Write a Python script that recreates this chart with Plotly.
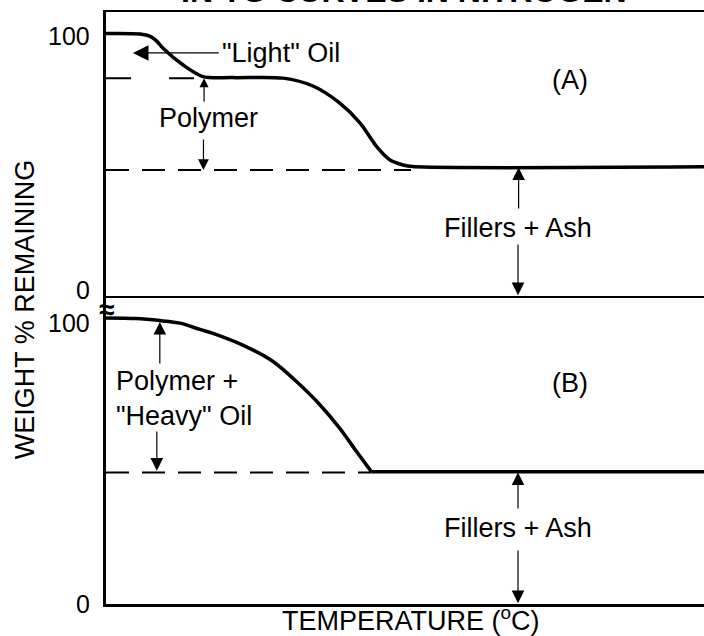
import plotly.graph_objects as go

# ---- data (temperature in arbitrary units 0-100, weight in %) ----
temp_a = [0, 5.7, 7.4, 8.4, 9.5, 12.9, 16.2, 21.2, 29.6, 34.6, 39.1, 42.5, 45.3, 47.5, 49.7, 51.3, 100]
weight_a = [100, 99.8, 98.9, 97.3, 94.5, 88.0, 83.6, 83.2, 83.0, 80.0, 73.5, 65.9, 56.8, 51.8, 49.9, 49.3, 49.2]

temp_b = [0, 5.0, 9.0, 12.4, 15.7, 17.9, 23.5, 28.0, 31.9, 35.8, 39.1, 41.9, 44.4, 100]
weight_b = [100, 99.8, 99.1, 98.2, 96.0, 94.6, 89.9, 84.7, 77.7, 69.6, 61.4, 53.3, 46.2, 46.2]

a_light_level = 83.0     # polymer plateau in (A)
a_ash_level = 48.0       # fillers + ash in (A)
b_ash_level = 46.0       # fillers + ash in (B)

ytick_vals = [0, 100]
ytick_text = ["0", "100"]

FONT = "Liberation Sans, Arial, sans-serif"
BLACK = "#000000"
TXT = 27

fig = go.Figure()

# curves
fig.add_trace(go.Scatter(x=temp_a, y=weight_a, mode="lines", xaxis="x2", yaxis="y2",
                         line=dict(color=BLACK, width=3.5, shape="spline", smoothing=0.8),
                         showlegend=False, hoverinfo="skip"))
fig.add_trace(go.Scatter(x=temp_b[:-1], y=weight_b[:-1], mode="lines", xaxis="x", yaxis="y",
                         line=dict(color=BLACK, width=3.5, shape="spline", smoothing=0.8),
                         showlegend=False, hoverinfo="skip"))
fig.add_trace(go.Scatter(x=temp_b[-2:], y=weight_b[-2:], mode="lines", xaxis="x", yaxis="y",
                         line=dict(color=BLACK, width=3.5),
                         showlegend=False, hoverinfo="skip"))

# dashed reference lines
fig.add_trace(go.Scatter(x=[0, 17.0], y=[a_light_level, a_light_level], mode="lines",
                         xaxis="x2", yaxis="y2",
                         line=dict(color=BLACK, width=2, dash="25px,38px"),
                         showlegend=False, hoverinfo="skip"))
fig.add_trace(go.Scatter(x=[0, 51.0], y=[a_ash_level, a_ash_level], mode="lines",
                         xaxis="x2", yaxis="y2",
                         line=dict(color=BLACK, width=2, dash="23px,13px"),
                         showlegend=False, hoverinfo="skip"))
fig.add_trace(go.Scatter(x=[0, 44.4], y=[b_ash_level, b_ash_level], mode="lines",
                         xaxis="x", yaxis="y",
                         line=dict(color=BLACK, width=2, dash="23px,13px"),
                         showlegend=False, hoverinfo="skip"))

annotations = []

def arrow(x_tail, y_tail, x_head, y_head, panel, size=2.1):
    xr, yr = ("x2", "y2") if panel == "A" else ("x", "y")
    annotations.append(dict(x=x_head, y=y_head, ax=x_tail, ay=y_tail,
                            xref=xr, yref=yr, axref=xr, ayref=yr, text="",
                            showarrow=True, arrowhead=2, arrowsize=size,
                            arrowwidth=1.2, arrowcolor=BLACK))

def label(x, y, text, panel, xanchor="center", size=TXT, align="center"):
    xr, yr = ("x2", "y2") if panel == "A" else ("x", "y")
    annotations.append(dict(x=x, y=y, xref=xr, yref=yr, text=text, showarrow=False,
                            xanchor=xanchor, yanchor="middle", align=align,
                            font=dict(family=FONT, size=size, color=BLACK)))

# panel A
arrow(19.1, 92.6, 4.5, 92.6, "A", size=2.6)
label(19.0, 92.6, "\"Light\" Oil", "A", xanchor="left")
label(77.6, 82.3, "(A)", "A")
arrow(16.4, 73.5, 16.4, 83.0, "A", size=1.5)
arrow(16.3, 60.2, 16.3, a_ash_level, "A", size=1.8)
label(17.1, 67.8, "Polymer", "A")
arrow(69.0, 32.8, 69.0, 49.0, "A")
arrow(68.9, 20.2, 68.9, 0.3, "A")
label(68.9, 25.9, "Fillers + Ash", "A")

# panel B
arrow(9.0, 83.6, 9.0, 98.6, "B")
arrow(8.5, 60.8, 8.5, b_ash_level + 0.6, "B")
label(1.3, 72.0, "Polymer +<br>\"Heavy\" Oil", "B", xanchor="left", align="left")
label(77.6, 77.3, "(B)", "B")
arrow(68.9, 32.9, 68.9, b_ash_level, "B")
arrow(68.9, 19.2, 68.9, 0.3, "B")
label(68.9, 26.6, "Fillers + Ash", "B")

# y tick labels (drawn as annotations so the two middle labels can sit apart)
tick_shift_a = [6, -2.5]
tick_shift_b = [0, -5]
for v, t, s in zip(ytick_vals, ytick_text, tick_shift_a):
    annotations.append(dict(x=-0.0234, y=v, xref="paper", yref="y2", text=t,
                            showarrow=False, xanchor="right", yanchor="middle", yshift=s,
                            font=dict(family=FONT, size=25, color=BLACK)))
for v, t, s in zip(ytick_vals, ytick_text, tick_shift_b):
    annotations.append(dict(x=-0.0234, y=v, xref="paper", yref="y", text=t,
                            showarrow=False, xanchor="right", yanchor="middle", yshift=s,
                            font=dict(family=FONT, size=25, color=BLACK)))

# axis break mark
annotations.append(dict(x=0.0, y=0.4983, xref="x", yref="paper", text="<b>≈</b>",
                        showarrow=False, xanchor="center", yanchor="middle",
                        font=dict(family=FONT, size=28, color=BLACK)))

# axis titles
annotations.append(dict(x=-0.1355, y=0.498, xref="paper", yref="paper",
                        text="WEIGHT % REMAINING", showarrow=False, textangle=-90,
                        xanchor="center", yanchor="middle",
                        font=dict(family=FONT, size=TXT, color=BLACK)))
annotations.append(dict(x=0.51, y=-0.025, xref="paper", yref="paper",
                        text="TEMPERATURE (<sup>o</sup>C)", showarrow=False,
                        xanchor="center", yanchor="middle",
                        font=dict(family=FONT, size=TXT, color=BLACK)))

# cut-off title
annotations.append(dict(x=0.498, y=1.0, xref="paper", yref="paper", yshift=1,
                        text="<b>IN TG CURVES IN NITROGEN</b>", showarrow=False,
                        xanchor="center", yanchor="bottom",
                        font=dict(family=FONT, size=32, color=BLACK)))

fig.update_layout(
    width=704, height=636,
    margin=dict(l=106, r=0, t=12, b=32),
    paper_bgcolor="white", plot_bgcolor="white",
    font=dict(family=FONT, size=TXT, color=BLACK),
    showlegend=False,
    annotations=annotations,
    xaxis=dict(domain=[0, 1], range=[0, 100], showgrid=False, zeroline=False,
               showline=True, linecolor=BLACK, linewidth=3, showticklabels=False,
               ticks=""),
    yaxis=dict(domain=[0, 0.5203], range=[0, 107.7], showgrid=False, zeroline=False,
               showline=True, linecolor=BLACK, linewidth=3, showticklabels=False,
               ticks=""),
    xaxis2=dict(domain=[0, 1], range=[0, 100], anchor="y2", showgrid=False, zeroline=False,
                showline=True, linecolor=BLACK, linewidth=2, mirror=True,
                showticklabels=False, ticks=""),
    yaxis2=dict(domain=[0.5203, 1], range=[0, 108.2], anchor="x2", showgrid=False,
                zeroline=False, showline=True, linecolor=BLACK, linewidth=3,
                showticklabels=False, ticks=""),
)

fig.write_html("out.html", config={"displayModeBar": False},
               post_script="document.body.style.margin='0';document.body.style.overflow='hidden';")
